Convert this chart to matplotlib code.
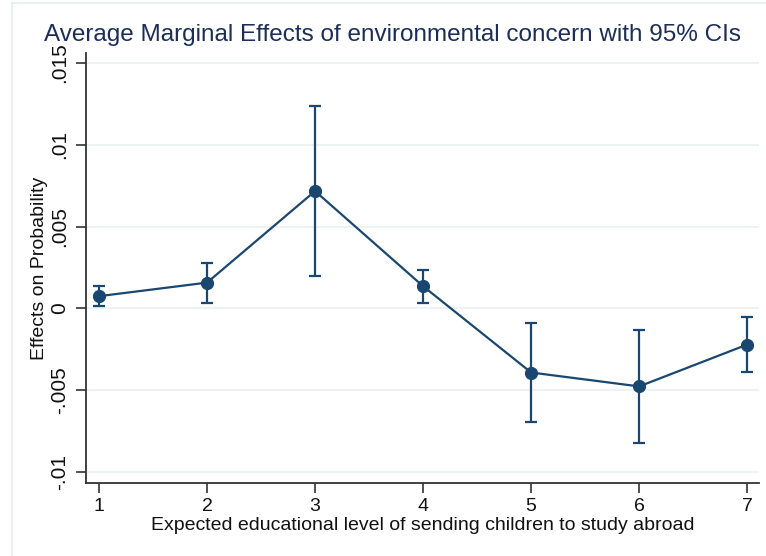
import matplotlib
matplotlib.use("Agg")
import matplotlib.pyplot as plt
from matplotlib.patches import Rectangle

# expected educational level (x) and marginal effects with 95% CIs
levels = [1, 2, 3, 4, 5, 6, 7]
effects = [0.00074, 0.00157, 0.00717, 0.00135, -0.00393, -0.00478, -0.00222]
ci_upper = [0.00135, 0.00280, 0.01238, 0.00233, -0.00091, -0.00130, -0.00053]
ci_lower = [0.00012, 0.00032, 0.00196, 0.00032, -0.00694, -0.00823, -0.00390]
y_ticks = [-0.01, -0.005, 0, 0.005, 0.01, 0.015]
y_labels = ["-.01", "-.005", "0", ".005", ".01", ".015"]

navy = "#1a476f"
plt.rcParams["font.family"] = ["Liberation Sans", "DejaVu Sans"]

fig = plt.figure(figsize=(7.66, 5.56), dpi=100)
ax = fig.add_axes([0.1123, 0.1313, 0.991 - 0.1123, 0.9047 - 0.1313])

# faint outer graph-region frame like Stata
fig.patches.append(Rectangle((12 / 766, -0.1), 1.2, 1.095, transform=fig.transFigure,
                             fill=False, edgecolor="#e4eef2", linewidth=1.2))

yerr = [[e - lo for e, lo in zip(effects, ci_lower)],
        [hi - e for e, hi in zip(effects, ci_upper)]]
ax.errorbar(levels, effects, yerr=yerr, color=navy, linewidth=1.6,
            elinewidth=1.6, capsize=4.5, capthick=1.6, marker="o",
            markersize=8.5, zorder=3)

ax.set_xlim(0.88, 7.11)
ax.set_ylim(-0.01069, 0.01562)
ax.set_xticks(levels)
ax.set_yticks(y_ticks)
ax.set_yticklabels(y_labels, rotation=90, va="center")
ax.grid(axis="y", color="#eaf2f3", linewidth=1.3, zorder=0)
ax.set_axisbelow(True)

for side in ["top", "right"]:
    ax.spines[side].set_visible(False)
for side in ["left", "bottom"]:
    ax.spines[side].set_color("#333333")
    ax.spines[side].set_linewidth(1.3)
ax.tick_params(axis="both", direction="out", length=7, width=1.2,
               color="#333333", labelcolor="#111111", pad=4)
ax.tick_params(axis="x", labelsize=14)
ax.tick_params(axis="y", labelsize=15, pad=5)

ax.set_xlabel("Expected educational level of sending children to study abroad",
              fontsize=14, color="#111111", labelpad=1)
ax.set_ylabel("Effects on Probability", fontsize=14, color="#111111", labelpad=2)
fig.text(0.512, 0.937, "Average Marginal Effects of environmental concern with 95% CIs",
         ha="center", va="center", fontsize=17.5, color="#1c2d5a")

fig.savefig("out.png", dpi=100)
